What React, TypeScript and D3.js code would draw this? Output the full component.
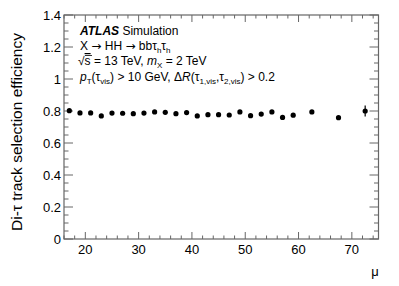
import React from "react";
import * as d3 from "d3";

const muCenters = [17, 19, 21, 23, 25, 27, 29, 31, 33, 35, 37, 39, 41, 43, 45, 47, 49, 51, 53, 55, 57, 59, 62.5, 67.5, 72.5];
const efficiency = [0.802, 0.788, 0.788, 0.769, 0.787, 0.786, 0.783, 0.787, 0.794, 0.792, 0.783, 0.79, 0.769, 0.777, 0.777, 0.775, 0.794, 0.771, 0.781, 0.794, 0.76, 0.774, 0.794, 0.758, 0.8];
const errors = [0.006, 0.004, 0.004, 0.004, 0.004, 0.004, 0.004, 0.004, 0.004, 0.004, 0.004, 0.004, 0.004, 0.004, 0.004, 0.004, 0.005, 0.005, 0.006, 0.007, 0.008, 0.009, 0.008, 0.012, 0.034];
const xTicks = [20, 30, 40, 50, 60, 70];
const yTicks = [0, 0.2, 0.4, 0.6, 0.8, 1, 1.2, 1.4];

const W = 399, H = 286;
const L = 64, R = 378.5, T = 15, B = 239;

export default function App() {
  const x = d3.scaleLinear().domain([16, 75]).range([L, R]);
  const y = d3.scaleLinear().domain([0, 1.4]).range([B, T]);
  const xMinor = d3.range(16, 75.01, 2).filter((v) => v % 10 !== 0);
  const yMinor = d3.range(0, 1.401, 0.05).filter((v) => Math.abs(v * 5 - Math.round(v * 5)) > 1e-6);
  const axisColor = "#666";
  const font = "'Liberation Sans', Arial, Helvetica, sans-serif";
  const tx = 80;
  return (
    <svg width={W} height={H} style={{ position: "absolute", left: 0, top: 0 }} fontFamily={font}>
      <rect x={0} y={0} width={W} height={H} fill="white" />
      {/* frame */}
      <rect x={L} y={T} width={R - L} height={B - T} fill="none" stroke={axisColor} strokeWidth={1.2} />
      {/* x ticks bottom and top */}
      {xTicks.map((v) => (
        <g key={"xt" + v}>
          <line x1={x(v)} x2={x(v)} y1={B} y2={B - 7} stroke={axisColor} />
          <line x1={x(v)} x2={x(v)} y1={T} y2={T + 7} stroke={axisColor} />
          <text x={x(v)} y={B + 14.5} textAnchor="middle" fontSize={13} fill="#000">{v}</text>
        </g>
      ))}
      {xMinor.map((v) => (
        <g key={"xm" + v}>
          <line x1={x(v)} x2={x(v)} y1={B} y2={B - 3.5} stroke={axisColor} />
          <line x1={x(v)} x2={x(v)} y1={T} y2={T + 3.5} stroke={axisColor} />
        </g>
      ))}
      {yTicks.map((v) => (
        <g key={"yt" + v}>
          <line x1={L} x2={L + 9} y1={y(v)} y2={y(v)} stroke={axisColor} />
          <line x1={R} x2={R - 9} y1={y(v)} y2={y(v)} stroke={axisColor} />
          <text x={L - 3} y={y(v) + 4.5} textAnchor="end" fontSize={13} fill="#000">{d3.format("~g")(v)}</text>
        </g>
      ))}
      {yMinor.map((v) => (
        <g key={"ym" + v}>
          <line x1={L} x2={L + 4.5} y1={y(v)} y2={y(v)} stroke={axisColor} />
          <line x1={R} x2={R - 4.5} y1={y(v)} y2={y(v)} stroke={axisColor} />
        </g>
      ))}
      {/* axis titles */}
      <text transform={`translate(22, 132) rotate(-90)`} textAnchor="middle" fontSize={15.5} fill="#000">
        Di-τ track selection efficiency
      </text>
      <text x={375} y={276} textAnchor="middle" fontSize={13} fill="#000">μ</text>
      {/* data */}
      {muCenters.map((m, i) => (
        <g key={"p" + i}>
          <line x1={x(m)} x2={x(m)} y1={y(efficiency[i] - errors[i])} y2={y(efficiency[i] + errors[i])} stroke="#000" strokeWidth={1.2} />
          <circle cx={x(m)} cy={y(efficiency[i])} r={2.6} fill="#000" />
        </g>
      ))}
      {/* labels */}
      <text x={tx} y={35} fontSize={12} fill="#000">
        <tspan fontWeight="bold" fontStyle="italic">ATLAS</tspan>
        <tspan> Simulation</tspan>
      </text>
      <text x={tx} y={50} fontSize={12} fill="#000">
        X <tspan fontFamily="'DejaVu Sans'">→</tspan> HH <tspan fontFamily="'DejaVu Sans'">→</tspan> bbτ<tspan fontSize={8} dy={3}>h</tspan><tspan dy={-3}>τ</tspan><tspan fontSize={8} dy={3}>h</tspan>
      </text>
      <text x={tx - 2} y={65} fontSize={12} fill="#000">
        <tspan>√</tspan><tspan textDecoration="overline">s</tspan><tspan> = 13 TeV, </tspan>
        <tspan fontStyle="italic">m</tspan><tspan fontSize={8} dy={3}>X</tspan><tspan dy={-3}> = 2 TeV</tspan>
      </text>
      <line x1={tx + 5} x2={tx + 12} y1={55.5} y2={55.5} stroke="#000" strokeWidth={0.8} />
      <text x={tx} y={81} fontSize={12} fill="#000">
        <tspan fontStyle="italic">p</tspan><tspan fontSize={8} dy={3}>T</tspan>
        <tspan dy={-3}>(τ</tspan><tspan fontSize={8} dy={3}>vis</tspan>
        <tspan dy={-3}>) &gt; 10 GeV, Δ</tspan><tspan fontStyle="italic">R</tspan>
        <tspan>(τ</tspan><tspan fontSize={8} dy={3}>1,vis</tspan>
        <tspan dy={-3}>,τ</tspan><tspan fontSize={8} dy={3}>2,vis</tspan>
        <tspan dy={-3}>) &gt; 0.2</tspan>
      </text>
    </svg>
  );
}
